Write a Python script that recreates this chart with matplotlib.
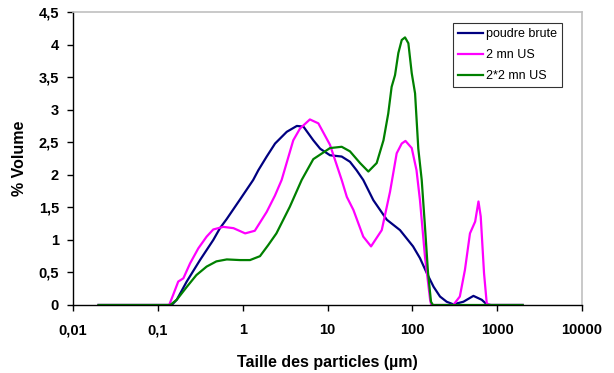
import matplotlib.pyplot as plt
from matplotlib.ticker import FixedLocator, FixedFormatter, NullLocator

# particle size (µm) / % volume
x_brute = [0.02, 0.14, 0.146, 0.167, 0.219, 0.314, 0.451, 0.54, 0.648, 0.93, 1.33, 1.53, 1.92, 2.41,
           3.31, 4.35, 5.2, 6.8, 8.2, 10.7, 14.7, 18.4, 22, 26.4, 34.7, 50, 71.6, 102, 123, 148, 178,
           212, 254, 304, 400, 525, 658, 753, 850, 2000]
y_brute = [0, 0, 0, 0.08, 0.36, 0.69, 1.0, 1.18, 1.32, 1.62, 1.92, 2.07, 2.28, 2.48,
           2.66, 2.75, 2.74, 2.53, 2.40, 2.30, 2.28, 2.20, 2.07, 1.92, 1.61, 1.31, 1.15, 0.9, 0.72, 0.49, 0.28,
           0.13, 0.05, 0.01, 0.05, 0.14, 0.08, 0.01, 0, 0]

x_2mn = [0.02, 0.136, 0.151, 0.174, 0.2, 0.24, 0.30, 0.376, 0.45, 0.59, 0.78, 1.07, 1.39, 1.92,
         2.4, 2.88, 3.95, 4.74, 6.2, 7.8, 10.7, 14.7, 16.9, 20.2, 26.4, 32.6, 43.6, 54.6, 65.4, 75,
         83, 98.4, 112, 123, 141, 162, 167, 304, 363, 417, 478, 550, 602, 640, 700, 753, 800, 2000]
y_2mn = [0, 0, 0.15, 0.36, 0.41, 0.64, 0.87, 1.05, 1.16, 1.20, 1.18, 1.10, 1.14, 1.43,
         1.68, 1.92, 2.53, 2.71, 2.85, 2.79, 2.46, 1.92, 1.66, 1.46, 1.05, 0.90, 1.15, 1.74, 2.33, 2.48,
         2.52, 2.41, 2.07, 1.61, 0.74, 0.08, 0, 0, 0.13, 0.54, 1.1, 1.28, 1.59, 1.36, 0.49, 0.03, 0, 0]

x_2x2mn = [0.02, 0.14, 0.167, 0.22, 0.285, 0.376, 0.49, 0.65, 0.93, 1.22, 1.6, 2.0, 2.5, 3.6, 4.96,
           6.8, 10.7, 14.7, 18.4, 24.2, 30.3, 38, 45.7, 52, 57, 62.5, 68.4, 75, 82, 89.8, 98.4,
           107.7, 117.6, 129, 141, 153, 166, 175, 2000]
y_2x2mn = [0, 0, 0.08, 0.28, 0.46, 0.59, 0.67, 0.70, 0.69, 0.69, 0.75, 0.92, 1.10, 1.51, 1.92,
           2.24, 2.41, 2.43, 2.36, 2.18, 2.05, 2.18, 2.53, 2.94, 3.35, 3.53, 3.87, 4.07, 4.11, 4.02, 3.56,
           3.25, 2.40, 1.92, 1.2, 0.5, 0.05, 0, 0]

series_names = ['poudre brute', '2 mn US', '2*2 mn US']
x_ticks = [0.01, 0.1, 1, 10, 100, 1000, 10000]
x_ticklabels = ['0,01', '0,1', '1', '10', '100', '1000', '10000']
y_ticks = [0, 0.5, 1, 1.5, 2, 2.5, 3, 3.5, 4, 4.5]
y_ticklabels = ['0', '0,5', '1', '1,5', '2', '2,5', '3', '3,5', '4', '4,5']

plt.rcParams['font.family'] = ['Liberation Sans', 'DejaVu Sans']

fig = plt.figure(figsize=(6.14, 3.73), dpi=100)
ax = fig.add_axes([73/614, 68/373, 509/614, 293/373])

ax.plot(x_brute, y_brute, color='#000080', lw=1.6, label=series_names[0])
ax.plot(x_2mn, y_2mn, color='#ff00ff', lw=1.6, label=series_names[1])
ax.plot(x_2x2mn, y_2x2mn, color='#008000', lw=1.6, label=series_names[2])

ax.set_xscale('log')
ax.set_xlim(0.01, 10000)
ax.set_ylim(0, 4.5)
ax.xaxis.set_major_locator(FixedLocator(x_ticks))
ax.xaxis.set_major_formatter(FixedFormatter(x_ticklabels))
ax.xaxis.set_minor_locator(NullLocator())
ax.set_yticks(y_ticks)
ax.set_yticklabels(y_ticklabels)
for lab in ax.get_xticklabels() + ax.get_yticklabels():
    lab.set_fontweight('bold')
ax.tick_params(axis='both', direction='out', length=4, width=1, labelsize=10.5)
ax.tick_params(axis='y', pad=6)
ax.tick_params(axis='x', pad=9)

for s in ['top', 'right']:
    ax.spines[s].set_color('#c0c0c0')
    ax.spines[s].set_linewidth(1.2)
for s in ['left', 'bottom']:
    ax.spines[s].set_color('black')
    ax.spines[s].set_linewidth(1)

ax.set_xlabel('Taille des particles (µm)', fontsize=11.5, fontweight='bold')
ax.set_ylabel('% Volume', fontsize=11.5, fontweight='bold')
ax.xaxis.set_label_coords(0.5, (305 - 362) / 293)
ax.xaxis.label.set_va('center')
ax.yaxis.set_label_coords((20 - 73) / 509, 0.5)
ax.yaxis.label.set_va('center')

# legend box roughly x 453-562, y 23-86 px in the reference
leg = ax.legend(loc='upper left', bbox_to_anchor=(453/614, 1 - 23/373), bbox_transform=fig.transFigure,
                fontsize=9, frameon=True, fancybox=False, borderpad=0.4, labelspacing=0.72,
                handlelength=2.0, handletextpad=0.25, borderaxespad=0)
leg.get_frame().set_edgecolor('black')
leg.get_frame().set_linewidth(0.8)

plt.savefig('out.png', dpi=100)
